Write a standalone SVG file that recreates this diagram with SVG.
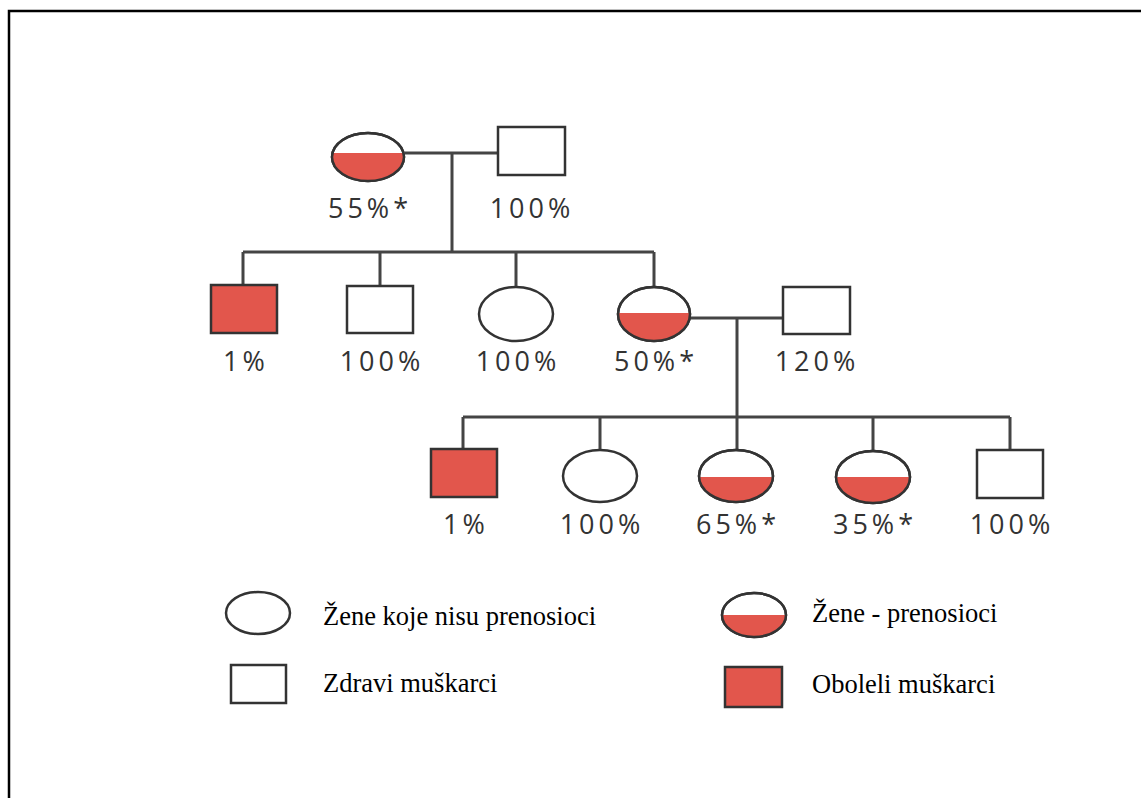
<svg xmlns="http://www.w3.org/2000/svg" width="1141" height="798" viewBox="0 0 1141 798">
<defs>
<style>
.s{fill:#fff;stroke:#333;stroke-width:2.5}
.a{fill:#e2564c;stroke:#333;stroke-width:2.5}
.f{fill:#e2564c;stroke:none}
.o{fill:none;stroke:#333;stroke-width:2.5}
.l{fill:none;stroke:#444;stroke-width:3}
.p{font-family:"Open Sans","DejaVu Sans",sans-serif;font-size:27px;fill:#333;letter-spacing:4px;text-anchor:middle}
.g{font-family:"Liberation Serif","Times New Roman",serif;font-size:26.5px;fill:#000}
</style>
<clipPath id="c1"><rect x="300" y="153" width="140" height="40"/></clipPath>
<clipPath id="c2"><rect x="600" y="313" width="120" height="40"/></clipPath>
<clipPath id="c3"><rect x="680" y="477" width="120" height="40"/></clipPath>
<clipPath id="c4"><rect x="820" y="477" width="120" height="40"/></clipPath>
<clipPath id="c5"><rect x="700" y="615" width="120" height="40"/></clipPath>
</defs>
<rect width="1141" height="798" fill="#fff"/>
<path d="M9,798 V11 H1141" fill="none" stroke="#000" stroke-width="2.5"/>
<g id="connectors">
<path class="l" d="M405,153 H498 M452,153 V252 M243,252 H654 M243,252 V285 M380,252 V286 M516,252 V287 M654,252 V287"/>
<path class="l" d="M690,318 H783 M737,318 V417 M463,417 H1010 M463,417 V449 M600,417 V450 M737,417 V450 M873,417 V452 M1010,417 V450"/>
</g>
<g id="n1"><ellipse class="s" cx="368" cy="157" rx="36" ry="24"/><ellipse class="f" cx="368" cy="157" rx="36" ry="24" clip-path="url(#c1)"/><ellipse class="o" cx="368" cy="157" rx="36" ry="24"/><text class="p" x="370" y="218">55%*</text></g>
<g id="n2"><rect class="s" x="498" y="127" width="67" height="48"/><text class="p" x="532" y="218">100%</text></g>
<g id="n3"><rect class="a" x="211" y="285" width="66" height="48"/><text class="p" x="246" y="371">1%</text></g>
<g id="n4"><rect class="s" x="347" y="286" width="66" height="47"/><text class="p" x="382" y="371">100%</text></g>
<g id="n5"><ellipse class="s" cx="516" cy="314" rx="37" ry="27"/><text class="p" x="518" y="371">100%</text></g>
<g id="n6"><ellipse class="s" cx="654" cy="314" rx="36" ry="27"/><ellipse class="f" cx="654" cy="314" rx="36" ry="27" clip-path="url(#c2)"/><ellipse class="o" cx="654" cy="314" rx="36" ry="27"/><text class="p" x="656" y="371">50%*</text></g>
<g id="n7"><rect class="s" x="783" y="287" width="67" height="47"/><text class="p" x="817" y="371">120%</text></g>
<g id="n8"><rect class="a" x="431" y="449" width="66" height="48"/><text class="p" x="466" y="534">1%</text></g>
<g id="n9"><ellipse class="s" cx="600" cy="476" rx="37" ry="26"/><text class="p" x="602" y="534">100%</text></g>
<g id="n10"><ellipse class="s" cx="736" cy="476" rx="37" ry="26"/><ellipse class="f" cx="736" cy="476" rx="37" ry="26" clip-path="url(#c3)"/><ellipse class="o" cx="736" cy="476" rx="37" ry="26"/><text class="p" x="738" y="534">65%*</text></g>
<g id="n11"><ellipse class="s" cx="873" cy="477" rx="37" ry="26"/><ellipse class="f" cx="873" cy="477" rx="37" ry="26" clip-path="url(#c4)"/><ellipse class="o" cx="873" cy="477" rx="37" ry="26"/><text class="p" x="875" y="534">35%*</text></g>
<g id="n12"><rect class="s" x="977" y="450" width="66" height="48"/><text class="p" x="1012" y="534">100%</text></g>
<g id="legend">
<ellipse class="s" cx="258" cy="613" rx="32" ry="21"/>
<text class="g" x="323" y="625">Žene koje nisu prenosioci</text>
<rect class="s" x="231" y="665" width="55" height="38"/>
<text class="g" x="323" y="692">Zdravi muškarci</text>
<ellipse class="s" cx="754" cy="615" rx="32" ry="22"/><ellipse class="f" cx="754" cy="615" rx="32" ry="22" clip-path="url(#c5)"/><ellipse class="o" cx="754" cy="615" rx="32" ry="22"/>
<text class="g" x="812" y="622">Žene - prenosioci</text>
<rect class="a" x="725" y="667" width="57" height="40"/>
<text class="g" x="812" y="693">Oboleli muškarci</text>
</g>
</svg>
